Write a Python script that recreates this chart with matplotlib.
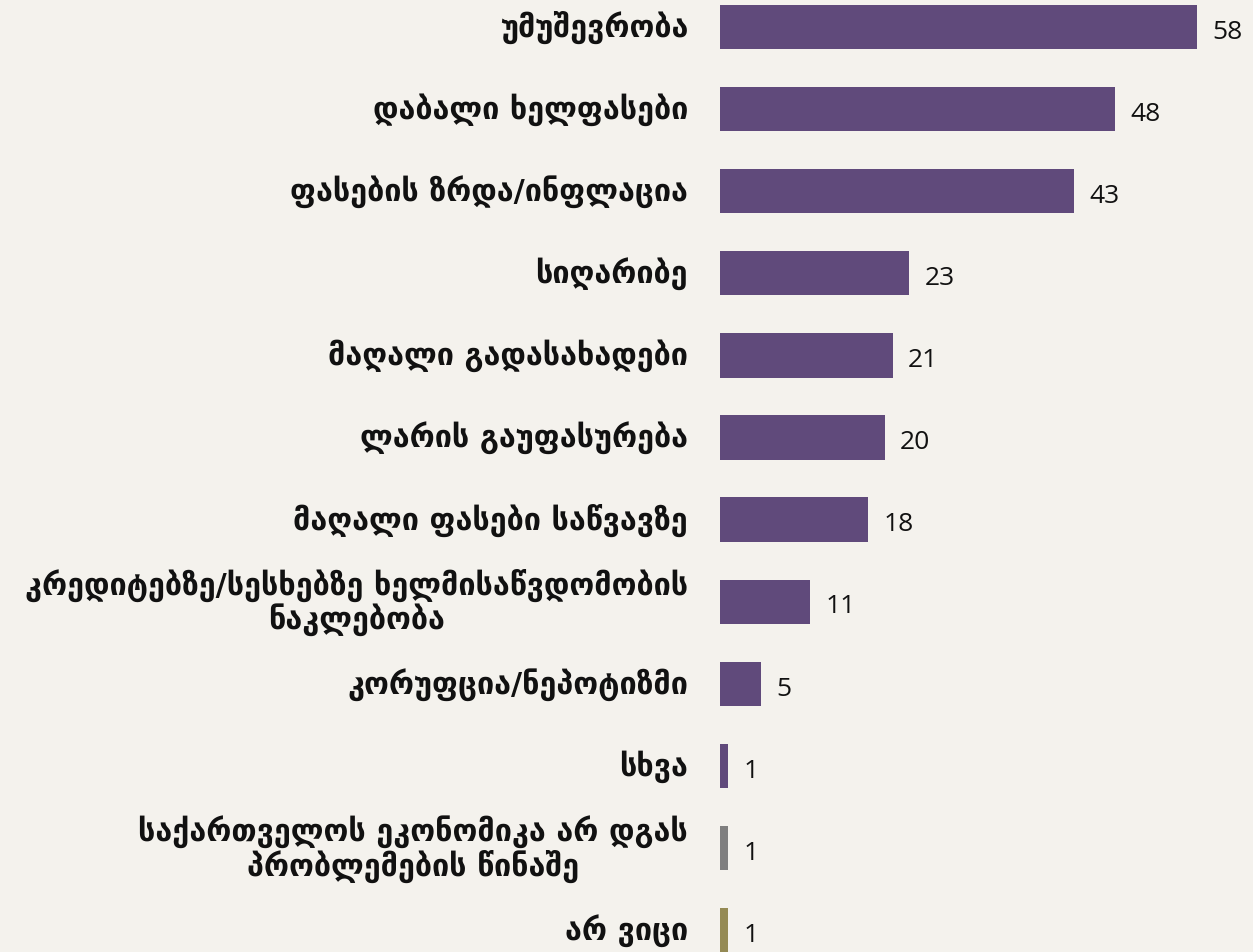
import matplotlib
matplotlib.use("Agg")
import matplotlib.pyplot as plt
from matplotlib.transforms import ScaledTranslation

categories = [
    "უმუშევრობა",
    "დაბალი ხელფასები",
    "ფასების ზრდა/ინფლაცია",
    "სიღარიბე",
    "მაღალი გადასახადები",
    "ლარის გაუფასურება",
    "მაღალი ფასები საწვავზე",
    "კრედიტებზე/სესხებზე ხელმისაწვდომობის\nნაკლებობა",
    "კორუფცია/ნეპოტიზმი",
    "სხვა",
    "საქართველოს ეკონომიკა არ დგას\nპრობლემების წინაშე",
    "არ ვიცი",
]
values = [58, 48, 43, 23, 21, 20, 18, 11, 5, 1, 1, 1]
colors = ["#604A7B"] * 10 + ["#7F7F7F", "#948A54"]

bg = "#F4F2ED"
W, H = 1253, 953
fig = plt.figure(figsize=(W / 100, H / 100), dpi=100, facecolor=bg)
ax = fig.add_axes([720 / W, 0, (W - 720) / W, 1], facecolor=bg)

ypos = list(range(len(categories)))
ax.barh(ypos, values, height=0.54, color=colors)
ax.set_xlim(0, 64.8)
ax.set_ylim(11.265, -0.34)

for y, v in zip(ypos, values):
    ax.annotate(str(v), (v, y), xytext=(11, -3), textcoords="offset points",
                ha="left", va="center", fontsize=19, family="Open Sans", color="#111111")

ax.set_yticks(ypos)
ax.set_yticklabels(categories, fontsize=22, fontweight="bold", family="DejaVu Sans",
                   multialignment="center", color="#111111", linespacing=1.05)
ax.tick_params(axis="y", length=0, pad=23)
offset = ScaledTranslation(0, 3 / 72, fig.dpi_scale_trans)
for lbl in ax.get_yticklabels():
    lbl.set_transform(lbl.get_transform() + offset)
ax.set_xticks([])
for s in ax.spines.values():
    s.set_visible(False)

fig.savefig("out.png", dpi=100, facecolor=bg)
